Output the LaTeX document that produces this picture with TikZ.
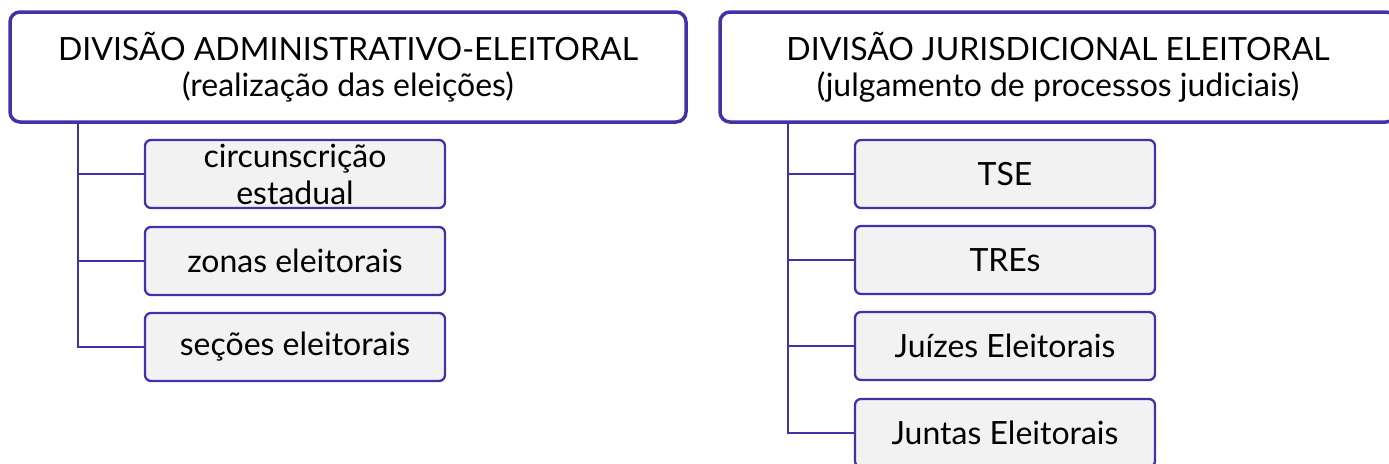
\documentclass[tikz,border=0pt]{standalone}
\usepackage{fontspec}
\setmainfont{Lato}
\definecolor{pur}{RGB}{66,50,168}
\definecolor{boxfill}{RGB}{242,242,242}
\begin{document}
\begin{tikzpicture}[x=1pt,y=-1pt,
  head/.style={draw=pur,line width=3.5pt,rounded corners=10pt,fill=white,minimum width=676pt,minimum height=110pt,inner sep=0pt,align=center,font=\fontsize{32}{36}\selectfont},
  child/.style={draw=pur,line width=2.3pt,rounded corners=6pt,fill=boxfill,minimum width=300pt,minimum height=68pt,inner sep=0pt,align=center,font=\fontsize{32}{37}\selectfont},
  conn/.style={draw=pur,line width=2.8pt}]
\useasboundingbox (0,0) rectangle (1389,463);
\node[head] (L) at (348,67) {DIVISÃO ADMINISTRATIVO-ELEITORAL\\(realização das eleições)};
\node[head] (R) at (1058,67) {DIVISÃO JURISDICIONAL ELEITORAL\\(julgamento de processos judiciais)};
\node[child] (a1) at (295,174) {circunscrição\\estadual};
\node[child] (a2) at (295,261) {zonas eleitorais};
\node[child] (a3) at (295,347) {seções eleitorais};
\node[child] (b1) at (1005,174) {TSE};
\node[child] (b2) at (1005,260) {TREs};
\node[child] (b3) at (1005,346) {Juízes Eleitorais};
\node[child] (b4) at (1005,433) {Juntas Eleitorais};
\coordinate (ls) at (78,0);
\coordinate (rs) at (788,0);
\draw[conn] (ls |- L.south) -- (ls |- a3.west) -- (a3.west);
\draw[conn] (ls |- a1.west) -- (a1.west);
\draw[conn] (ls |- a2.west) -- (a2.west);
\draw[conn] (rs |- R.south) -- (rs |- b4.west) -- (b4.west);
\draw[conn] (rs |- b1.west) -- (b1.west);
\draw[conn] (rs |- b2.west) -- (b2.west);
\draw[conn] (rs |- b3.west) -- (b3.west);
\end{tikzpicture}
\end{document}
